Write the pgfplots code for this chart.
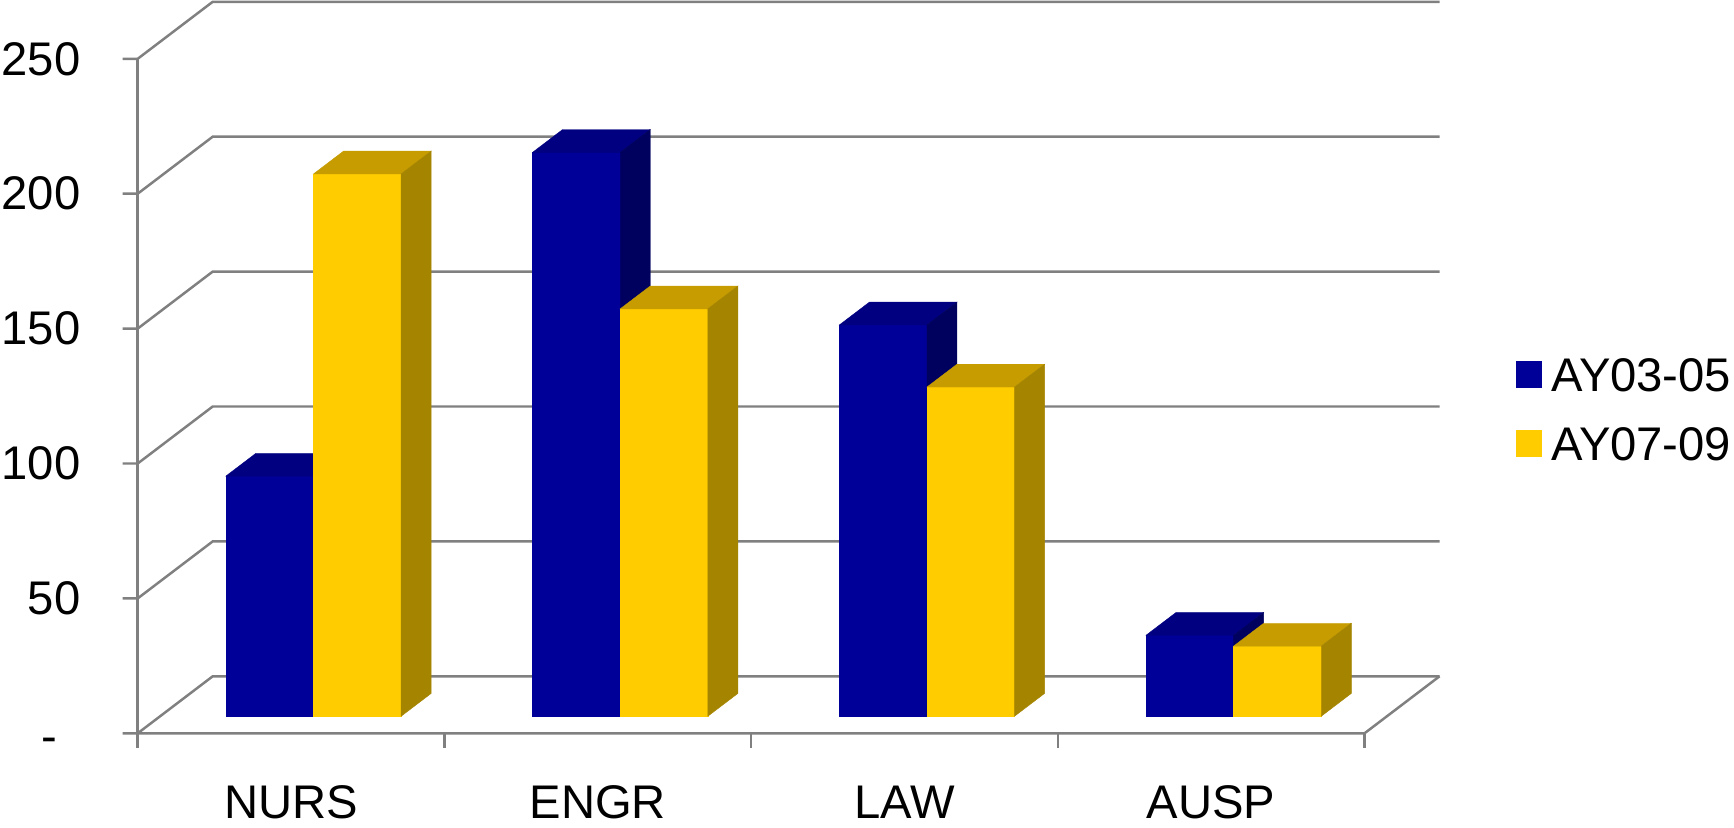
\documentclass[border=0pt]{standalone}
\usepackage{fontspec}
\setmainfont{Liberation Sans}
\usepackage{pgfplots}
\usepackage{pgfplotstable}
\pgfplotsset{compat=1.18}

\definecolor{frontA}{RGB}{0,0,153}
\definecolor{topA}{RGB}{0,0,128}
\definecolor{sideA}{RGB}{0,0,94}
\definecolor{frontB}{RGB}{255,204,0}
\definecolor{topB}{RGB}{198,156,0}
\definecolor{sideB}{RGB}{165,133,0}
\definecolor{gridgray}{RGB}{128,128,128}

% values per category: a = AY03-05, b = AY07-09
\pgfplotstableread{
cat  a    b
0    89   201
1    209  151
2    145  122
3    30   26
}\datatable

% oblique depth vector (full depth) in data units
\def\Dx{0.24454}
\def\Dy{21.127}
% bar depth range and width (category units)
\def\dzero{0.3}
\def\done{0.7}
\def\bw{0.2857}

% one 3-D bar: #1 left edge, #2 value, #3 front, #4 top, #5 side colour
\newcommand\drawbar[5]{%
  \pgfmathsetmacro\xa{#1+\dzero*\Dx}%
  \pgfmathsetmacro\xb{#1+\bw+\dzero*\Dx}%
  \pgfmathsetmacro\xc{#1+\done*\Dx}%
  \pgfmathsetmacro\xd{#1+\bw+\done*\Dx}%
  \pgfmathsetmacro\ya{\dzero*\Dy}%
  \pgfmathsetmacro\yb{#2+\dzero*\Dy}%
  \pgfmathsetmacro\yc{\done*\Dy}%
  \pgfmathsetmacro\yd{#2+\done*\Dy}%
  \edef\temp{%
    \noexpand\addplot[fill=#3, draw=#3, line width=0.1pt, forget plot]
      coordinates {(\xa,\ya) (\xb,\ya) (\xb,\yb) (\xa,\yb)} -- cycle;
    \noexpand\addplot[fill=#4, draw=#4, line width=0.1pt, forget plot]
      coordinates {(\xa,\yb) (\xb,\yb) (\xd,\yd) (\xc,\yd)} -- cycle;
    \noexpand\addplot[fill=#5, draw=#5, line width=0.1pt, forget plot]
      coordinates {(\xb,\ya) (\xd,\yc) (\xd,\yd) (\xb,\yb)} -- cycle;
  }\temp
}

% one wall gridline: front tick, diagonal, back line
\newcommand\drawgrid[1]{%
  \pgfmathsetmacro\gx{\Dx}%
  \pgfmathsetmacro\gy{#1+\Dy}%
  \pgfmathsetmacro\gxe{4+\Dx}%
  \edef\temp{%
    \noexpand\addplot[gridgray, line width=0.62pt, forget plot]
      coordinates {(-0.0489,#1) (0,#1) (\gx,\gy) (\gxe,\gy)};
  }\temp
}

\begin{document}
\begin{tikzpicture}
\begin{axis}[
  scale only axis,
  width=433.5pt, height=206.75pt,
  xmin=-0.44897, xmax=5.2047,
  ymin=-34.73, ymax=271.79,
  clip=false,
  axis line style={draw=none},
  major tick length=0pt,
  tick style={draw=none},
  ytick={0,50,100,150,200,250},
  yticklabels={\vphantom{0}\raisebox{-1.2pt}{-}\kern5.8pt,50,100,150,200,250},
  xtick={0.5,1.5,2.5,3.5},
  xticklabels={NURS,ENGR,LAW,AUSP},
  every tick label/.append style={font=\fontsize{11.8}{14}\selectfont, inner sep=0pt},
  yticklabel style={anchor=east, xshift=20.3pt},
  xticklabel style={anchor=north, yshift=10.5pt},
  legend cell align=left,
  legend style={
    at={(axis cs:4.4907,139.6)}, anchor=north west,
    draw=none, fill=none, inner sep=0pt,
    font=\fontsize{11.8}{14}\selectfont,
    nodes={inner sep=0pt, text height=8.5pt, text depth=0pt},
    column sep=2.2pt, row sep=8.75pt,
  },
  legend image code/.code={\fill[#1] (0pt,-3.1pt) rectangle (6.2pt,3.1pt);},
]
  % legend entries
  \addlegendimage{frontA}
  \addlegendentry{AY03-05}
  \addlegendimage{frontB}
  \addlegendentry{AY07-09}

  % walls and floor
  \drawgrid{0}
  \drawgrid{50}
  \drawgrid{100}
  \drawgrid{150}
  \drawgrid{200}
  \drawgrid{250}
  \pgfmathsetmacro\fx{4+\Dx}
  \edef\temp{\noexpand\addplot[gridgray, line width=0.62pt, forget plot]
    coordinates {(0,250) (0,-5.56)};
    \noexpand\addplot[gridgray, line width=0.62pt, forget plot]
    coordinates {(0,0) (4,0) (\fx,\Dy)};}\temp
  \addplot[gridgray, line width=0.62pt, forget plot] coordinates {(1,0) (1,-5.56)};
  \addplot[gridgray, line width=0.62pt, forget plot] coordinates {(2,0) (2,-5.56)};
  \addplot[gridgray, line width=0.62pt, forget plot] coordinates {(3,0) (3,-5.56)};
  \addplot[gridgray, line width=0.62pt, forget plot] coordinates {(4,0) (4,-5.56)};

  % bars
  \pgfplotsinvokeforeach{0,1,2,3}{
    \pgfplotstablegetelem{#1}{a}\of\datatable
    \let\va\pgfplotsretval
    \pgfplotstablegetelem{#1}{b}\of\datatable
    \let\vb\pgfplotsretval
    \pgfmathsetmacro\la{#1+0.5-\bw}
    \drawbar{\la}{\va}{frontA}{topA}{sideA}
    \pgfmathsetmacro\lb{#1+0.5}
    \drawbar{\lb}{\vb}{frontB}{topB}{sideB}
  }
\end{axis}
\end{tikzpicture}
\end{document}
